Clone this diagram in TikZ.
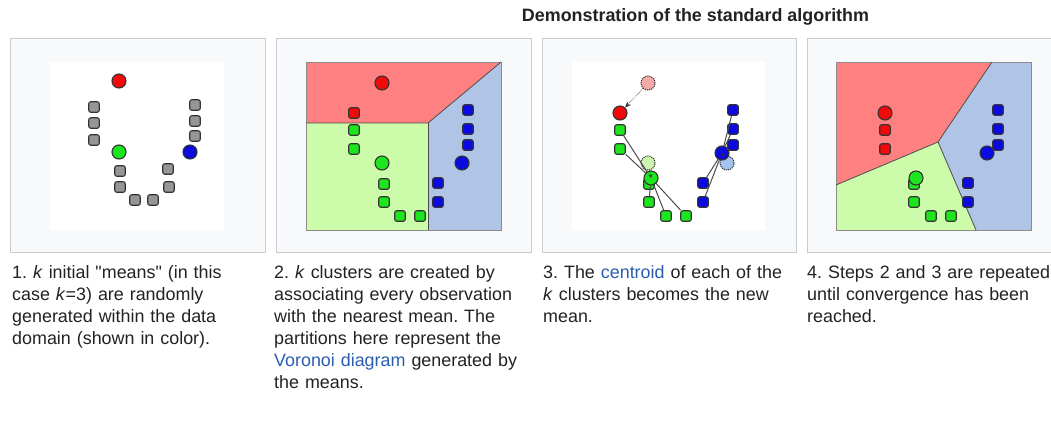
\documentclass[tikz,border=0pt]{standalone}
\usepackage{fontspec}
\setmainfont{Liberation Sans}
\usetikzlibrary{arrows.meta}

\definecolor{txt}{RGB}{34,34,34}
\definecolor{linkblue}{RGB}{42,93,176}
\definecolor{framebg}{RGB}{248,249,250}
\definecolor{framegray}{RGB}{200,204,209}
\definecolor{ptred}{RGB}{240,10,10}
\definecolor{ptgreen}{RGB}{30,230,30}
\definecolor{ptblue}{RGB}{10,10,225}
\definecolor{ptgray}{RGB}{150,150,150}
\definecolor{zred}{RGB}{255,128,128}
\definecolor{zgreen}{RGB}{204,252,170}
\definecolor{zblue}{RGB}{176,196,230}
\definecolor{oldred}{RGB}{245,170,170}
\definecolor{oldgreen}{RGB}{205,245,175}
\definecolor{oldblue}{RGB}{165,195,240}

\begin{document}
\frenchspacing
\begin{tikzpicture}[x=1pt, y=-1pt,
  font=\fontsize{17.9}{22}\selectfont,
  panel/.style={draw=framegray, fill=framebg, line width=1pt},
  zone/.style={draw=black!70, line width=0.8pt},
  sq/.style={draw=black!80, rounded corners=2pt, minimum size=10.5pt, inner sep=0pt, line width=1.1pt},
  mean/.style={circle, draw=black!80, minimum size=14pt, inner sep=0pt, line width=1.1pt},
  old/.style={mean, densely dotted},
  caption/.style={anchor=base west, inner sep=0pt, text width=262pt, align=left, text=txt},
  a/.style={-{Stealth[length=6pt, width=5pt]}, densely dotted, draw=black!80, line width=0.6pt},
  ln/.style={draw=black!70, line width=1pt}
]
\useasboundingbox (0,0) rectangle (1051,429);

\node[anchor=base, font=\fontsize{17.9}{22}\selectfont\bfseries, text=txt] (title) at (695.5,21) {Demonstration of the standard algorithm};

% frames
\draw[panel] (10,38) rectangle (265,252);
\draw[panel] (276,38) rectangle (531,252);
\draw[panel] (542,38) rectangle (796,252);
\draw[panel] (807,38) rectangle (1062,252);
\fill[white] (50,62) rectangle (224,230);
\fill[white] (572,62) rectangle (765,230);

% step 1
\node[sq, fill=ptgray] (s1a) at (94,107) {};
\node[sq, fill=ptgray] (s1b) at (94,123) {};
\node[sq, fill=ptgray] (s1c) at (94,140) {};
\node[sq, fill=ptgray] (s1d) at (195,105) {};
\node[sq, fill=ptgray] (s1e) at (195,121) {};
\node[sq, fill=ptgray] (s1f) at (195,136) {};
\node[sq, fill=ptgray] (s1g) at (120,171) {};
\node[sq, fill=ptgray] (s1h) at (120,187) {};
\node[sq, fill=ptgray] (s1i) at (135,200) {};
\node[sq, fill=ptgray] (s1j) at (153,200) {};
\node[sq, fill=ptgray] (s1k) at (168,169) {};
\node[sq, fill=ptgray] (s1l) at (169,187) {};
\node[mean, fill=ptred] (m1r) at (119,81) {};
\node[mean, fill=ptgreen] (m1g) at (119,152) {};
\node[mean, fill=ptblue] (m1b) at (190,152) {};

% step 2
\fill[zred] (306,62) -- (501,62) -- (428,123) -- (306,123) -- cycle;
\fill[zgreen] (306,123) -- (428,123) -- (428,230) -- (306,230) -- cycle;
\fill[zblue] (428,123) -- (501,62) -- (501,230) -- (428,230) -- cycle;
\draw[draw=black!45, line width=0.8pt] (306,62) rectangle (501,230);
\draw[zone] (306,123) -- (428,123) -- (501,62);
\draw[zone] (428,123) -- (428,230);
\node[sq, fill=ptred] (s2a) at (354,113) {};
\node[sq, fill=ptgreen] (s2b) at (354,130) {};
\node[sq, fill=ptgreen] (s2c) at (354,149) {};
\node[sq, fill=ptgreen] (s2d) at (384,184) {};
\node[sq, fill=ptgreen] (s2e) at (384,202) {};
\node[sq, fill=ptgreen] (s2f) at (400,216) {};
\node[sq, fill=ptgreen] (s2g) at (420,216) {};
\node[sq, fill=ptblue] (s2h) at (468,110) {};
\node[sq, fill=ptblue] (s2i) at (468,129) {};
\node[sq, fill=ptblue] (s2j) at (468,145) {};
\node[sq, fill=ptblue] (s2k) at (438,183) {};
\node[sq, fill=ptblue] (s2l) at (438,202) {};
\node[mean, fill=ptred] (m2r) at (382,83) {};
\node[mean, fill=ptgreen] (m2g) at (382,163) {};
\node[mean, fill=ptblue] (m2b) at (462,163) {};

% step 3
\node[old, fill=oldred] (o3r) at (648,83) {};
\node[old, fill=oldgreen] (o3g) at (648,163) {};
\node[old, fill=oldblue] (o3b) at (727,163) {};
\node[sq, fill=ptgreen] (s3b) at (620,130) {};
\node[sq, fill=ptgreen] (s3c) at (620,149) {};
\node[sq, fill=ptgreen] (s3d) at (649,184) {};
\node[sq, fill=ptgreen] (s3e) at (649,202) {};
\node[sq, fill=ptgreen] (s3f) at (666,216) {};
\node[sq, fill=ptgreen] (s3g) at (686,216) {};
\node[sq, fill=ptblue] (s3h) at (733,110) {};
\node[sq, fill=ptblue] (s3i) at (733,129) {};
\node[sq, fill=ptblue] (s3j) at (733,145) {};
\node[sq, fill=ptblue] (s3k) at (703,183) {};
\node[sq, fill=ptblue] (s3l) at (703,202) {};
\node[mean, fill=ptred] (m3r) at (620,113) {};
\node[mean, fill=ptgreen] (m3g) at (651,178) {};
\node[mean, fill=ptblue] (m3b) at (722,153) {};

\draw[ln] (m3g) -- (s3b);
\draw[ln] (m3g) -- (s3c);
\draw[ln] (m3g) -- (s3e);
\draw[ln] (m3g) -- (s3f);
\draw[ln] (m3g) -- (s3g);
\draw[ln] (m3b) -- (s3h);
\draw[ln] (m3b) -- (s3i);
\draw[ln] (m3b) -- (s3j);
\draw[ln] (m3b) -- (s3k);
\draw[ln] (m3b) -- (s3l);

\draw[a] (o3r) -- (m3r);
\draw[a, -{Stealth[length=4pt, width=4pt]}] (o3g) -- (m3g.center);
\draw[a, -{Stealth[length=3.5pt, width=3.5pt]}] (o3b) -- (m3b.center);

% step 4
\fill[zred] (836,62) -- (992,62) -- (938,142) -- (836,185) -- cycle;
\fill[zgreen] (836,185) -- (938,142) -- (976,230) -- (836,230) -- cycle;
\fill[zblue] (992,62) -- (1031,62) -- (1031,230) -- (976,230) -- (938,142) -- cycle;
\draw[draw=black!45, line width=0.8pt] (836,62) rectangle (1031,230);
\draw[zone] (836,185) -- (938,142) -- (992,62);
\draw[zone] (938,142) -- (976,230);
\node[sq, fill=ptred] (s4b) at (885,130) {};
\node[sq, fill=ptred] (s4c) at (885,149) {};
\node[sq, fill=ptgreen] (s4d) at (914,184) {};
\node[sq, fill=ptgreen] (s4e) at (914,202) {};
\node[sq, fill=ptgreen] (s4f) at (931,216) {};
\node[sq, fill=ptgreen] (s4g) at (951,216) {};
\node[mean, fill=ptblue] (m4b) at (987,153) {};
\node[sq, fill=ptblue] (s4h) at (998,110) {};
\node[sq, fill=ptblue] (s4i) at (998,129) {};
\node[sq, fill=ptblue] (s4j) at (998,145) {};
\node[sq, fill=ptblue] (s4k) at (968,183) {};
\node[sq, fill=ptblue] (s4l) at (968,202) {};
\node[mean, fill=ptred] (m4r) at (885,113) {};
\node[mean, fill=ptgreen] (m4g) at (916,178) {};

% captions
\node[caption] (cap1) at (12,278) {1. \textit{k} initial \textquotedbl means\textquotedbl{} (in this\\case \textit{k}=3) are randomly\\generated within the data\\domain (shown in color).};
\node[caption] (cap2) at (274,278) {2. \textit{k} clusters are created by\\associating every observation\\with the nearest mean. The\\partitions here represent the\\{\color{linkblue}Voronoi diagram} generated by\\the means.};
\node[caption] (cap3) at (543,278) {3. The {\color{linkblue}centroid} of each of the\\\textit{k} clusters becomes the new\\mean.};
\node[caption] (cap4) at (807,278) {4. Steps 2 and 3 are repeated\\until convergence has been\\reached.};
\end{tikzpicture}
\end{document}
